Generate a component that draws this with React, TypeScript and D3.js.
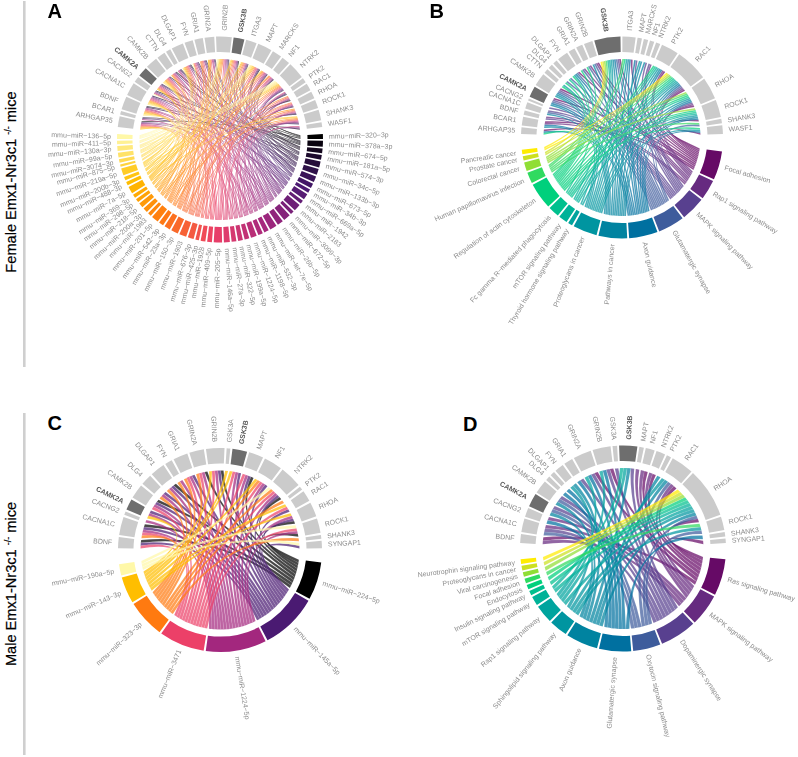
import * as d3 from "d3";
import { useEffect, useRef } from "react";

// Genes of the female panels (A, B) and male panels (C, D).
const femaleGenes = ["ARHGAP35", "BCAR1", "BDNF", "CACNA1C", "CACNG2", "CAMK2A", "CAMK2B", "CTTN", "DLG4", "DLGAP1", "FYN", "GRIA1", "GRIN2A", "GRIN2B", "GSK3B", "ITGA3", "MAPT", "MARCKS", "NF1", "NTRK2", "PTK2", "RAC1", "RHOA", "ROCK1", "SHANK3", "WASF1"];
const maleGenes = ["BDNF", "CACNA1C", "CACNG2", "CAMK2A", "CAMK2B", "DLG4", "DLGAP1", "FYN", "GRIA1", "GRIN2A", "GRIN2B", "GSK3A", "GSK3B", "MAPT", "NF1", "NTRK2", "PTK2", "RAC1", "RHOA", "ROCK1", "SHANK3", "SYNGAP1"];
const boldGenes = ["CAMK2A", "GSK3B"];

// Panel A: miRNAs, clockwise from the right. Each string lists the targets,
// one letter per link, where a = first gene of the panel, b = second, ...
const panelAMirs = ["320-3p", "378a-3p", "674-5p", "181a-5p", "574-3p", "34c-5p", "133b-3p", "673-5p", "34b-3p", "669a-5p", "1942", "2183", "3099-3p", "672-5p", "26b-5p", "let-7e-5p", "532-3p", "1198-5p", "1224-5p", "199a-5p", "322-5p", "27a-3p", "146a-5p", "205-5p", "409-5p", "1928", "425-3p", "676-3p", "1903", "150-3p", "23a-3p", "542-3p", "201-5p", "1983", "200a-3p", "218-5p", "298-5p", "369-3p", "7a-5p", "488-3p", "200b-3p", "219a-5p", "875-5p", "3074-3p", "99a-5p", "130a-3p", "411-5p", "136-5p"];
const panelALinks = ["ahov", "cjqxe", "lszg", "nubi", "pwdkr", "yfmtc", "nyjuf", "qbmx", "ite", "palwh", "sdo", "zkvgrn", "lqv", "afkpuz", "ejoty", "dinsxc", "hmrw", "btcm", "yhrdn", "xise", "oaku", "fpzg", "qvjwl", "naqgsdy", "koct", "hrxf", "mjv", "plwqf", "talydo", "gwjrcx", "hnspk", "vmtc", "ojsgyl", "anq", "dxrf", "phmg", "tna", "qjd", "yocmpf", "rnt", "cqd", "ygaojt", "dn", "qcg", "jqtg", "cndt", "tqe", "ntpk"];

// Panel B: KEGG pathways against the same genes.
const panelBPathways = ["Focal adhesion", "Rap1 signaling pathway", "MAPK signaling pathway", "Glutamatergic synapse", "Axon guidance", "Pathways in cancer", "Proteoglycans in cancer", "Thyroid hormone signaling pathway", "mTOR signaling pathway", "Fc gamma R-mediated phagocytosis", "Regulation of actin cytoskeleton", "Human papillomavirus infection", "Colorectal cancer", "Prostate cancer", "Pancreatic cancer"];
const panelBLinks = ["abfgknopuvwxz", "bclmntuvw", "cdefgoqstvw", "dfgijklmnovy", "abfgkopquvwxz", "bdfgnoprsuvwx", "ghkopruvwxz", "ov", "ouvx", "juvwx", "ahiklmpuvwxz", "opvwy", "ovwx", "ov", "ov"];

// Panel C: male miRNAs.
const panelCMirs = ["224-5p", "145a-5p", "1224-5p", "3471", "323-3p", "143-3p", "190a-5p"];
const panelCLinks = ["abegjknpst", "abdefgikmnoprsv", "bcdefghijkmnopst", "abeijkmnoprt", "bfghijopqu", "dklmors", "ptv"];

// Panel D: male pathways.
const panelDPathways = ["Ras signaling pathway", "MAPK signaling pathway", "Dopaminergic synapse", "Oxytocin signaling pathway", "Glutamatergic synapse", "Axon guidance", "Sphingolipid signaling pathway", "Rap1 signaling pathway", "mTOR signaling pathway", "Insulin signaling pathway", "Endocytosis", "Focal adhesion", "Viral carcinogenesis", "Proteoglycans in cancer", "Neurotrophin signaling pathway"];
const panelDLinks = ["ajkoprsv", "abcnopr", "bdeijklm", "bderst", "cfgijku", "dehmqrs", "hrst", "jkms", "ms", "s", "s", "t", "s", "s", "s"];

// Colour ramps.
const mirColors = ["#000000", "#4a1a72", "#a3277e", "#ec4068", "#ff7a10", "#ffbe00", "#fff8a8"];
const pathwayColors = ["#660a66", "#662a80", "#58408f", "#3e5c9c", "#0070a0", "#0083a0", "#0095a0", "#00a49e", "#00b298", "#00c08e", "#00d07c", "#30da60", "#90de35", "#cce020", "#ffec00"];

const geneGrey = "#cbcbcb";
const geneDark = "#6e6e6e";
const labelGrey = "#8c8c8c";
const rad = Math.PI / 180;
const fontFamily = "'Liberation Sans', Arial, sans-serif";

type Panel = {
  letter: string;
  letterX: number;
  letterY: number;
  cx: number;
  cy: number;
  R: number;
  top: number[]; // genes arc, degrees clockwise from 12 o'clock
  bottom: number[]; // miRNA / pathway arc
  gap: number;
  genes: string[];
  groups: string[];
  links: string[];
  colors: string[];
  drawByGene?: boolean;
};

const miRName = (s: string) => `mmu-miR-${s}`.replace(/-/g, "\u2212");

const panels: Panel[] = [
  { letter: "A", letterX: 47.5, letterY: 17.5, cx: 220, cy: 139.5, R: 103, top: [-83, 83], bottom: [87, 273], gap: 1, genes: femaleGenes, groups: panelAMirs.map(miRName), links: panelALinks, colors: mirColors, drawByGene: true },
  { letter: "B", letterX: 429.5, letterY: 17.5, cx: 622, cy: 137.5, R: 101, top: [-88, 88], bottom: [98, 263], gap: 1.1, genes: femaleGenes, groups: panelBPathways.map((s) => s.replace("R-", "R\u2212")), links: panelBLinks, colors: pathwayColors },
  { letter: "C", letterX: 47.5, letterY: 430, cx: 220, cy: 550, R: 102, top: [-89, 89], bottom: [97, 262], gap: 1.2, genes: maleGenes, groups: panelCMirs.map(miRName), links: panelCLinks, colors: mirColors },
  { letter: "D", letterX: 463, letterY: 431, cx: 623, cy: 548.5, R: 103, top: [-87, 87], bottom: [96, 264], gap: 1.1, genes: maleGenes, groups: panelDPathways, links: panelDLinks, colors: pathwayColors },
];

// Sectors get an arc proportional to their number of links.
function layoutSide(counts: number[], span: number[], gap: number) {
  const total = d3.sum(counts);
  const perLink = (span[1] - span[0] - gap * (counts.length - 1)) / total;
  let at = span[0];
  return counts.map((n) => {
    const sector = { start: at * rad, end: (at + n * perLink) * rad };
    at += n * perLink + gap;
    return sector;
  });
}

// Point on the circle; angles run clockwise from 12 o'clock like d3.arc.
const onCircle = (a: number, r: number) => [r * Math.sin(a), -r * Math.cos(a)];

// Like d3.ribbon, but the control point follows the two ends a little and sits
// above the centre, so the fans of links cross above the middle of the circle.
function ribbonPath(src: any, tgt: any, r: number) {
  const control = (a0: number, a1: number) => {
    const [px, py] = onCircle(a0, r);
    const [qx, qy] = onCircle(a1, r);
    return [0.08 * (px + qx), 0.08 * (py + qy) - 0.25 * r];
  };

  const path = d3.path();
  const [sx, sy] = onCircle(src.startAngle, r);
  path.moveTo(sx, sy);
  path.arc(0, 0, r, src.startAngle - Math.PI / 2, src.endAngle - Math.PI / 2);
  const [c1x, c1y] = control(src.endAngle, tgt.startAngle);
  const [tx, ty] = onCircle(tgt.startAngle, r);
  path.quadraticCurveTo(c1x, c1y, tx, ty);
  path.arc(0, 0, r, tgt.startAngle - Math.PI / 2, tgt.endAngle - Math.PI / 2);
  const [c2x, c2y] = control(tgt.endAngle, src.startAngle);
  path.quadraticCurveTo(c2x, c2y, sx, sy);
  path.closePath();
  return path.toString();
}

function drawPanel(svg: any, p: Panel) {
  const g = svg.append("g").attr("transform", `translate(${p.cx},${p.cy})`);
  const ringOuter = p.R;
  const ringInner = p.R - 15.5;
  const linkRadius = p.R - 22.5;

  const edges: { group: number; gene: number }[] = [];
  p.links.forEach((codes, group) => {
    for (const c of codes) edges.push({ group, gene: c.charCodeAt(0) - 97 });
  });

  const geneCounts = p.genes.map((_, i) => edges.filter((e) => e.gene === i).length);
  const groupCounts = p.groups.map((_, i) => edges.filter((e) => e.group === i).length);
  const geneSectors = layoutSide(geneCounts, p.top, p.gap);
  const groupSectors = layoutSide(groupCounts, p.bottom, p.gap);

  const color = d3
    .scaleLinear<string>()
    .domain(p.colors.map((_, i) => (i / (p.colors.length - 1)) * (p.groups.length - 1)))
    .range(p.colors)
    .interpolate(d3.interpolateRgb);

  // Inside a gene the links run from the last group to the first, clockwise;
  // inside a group they run from the last gene to the first.
  const slot = (list: any[], key: string, other: string, sectors: any[]) => {
    sectors.forEach((sector, i) => {
      const own = list.filter((e) => e[key] === i).sort((a, b) => d3.descending(a[other], b[other]));
      const x = d3.scaleLinear().domain([0, own.length]).range([sector.start, sector.end]);
      own.forEach((e, j) => {
        e[`${key}Arc`] = { startAngle: x(j), endAngle: x(j + 1) };
      });
    });
  };
  slot(edges, "gene", "group", geneSectors);
  slot(edges, "group", "gene", groupSectors);

  const drawn = p.drawByGene ? d3.sort(edges, (e) => e.gene) : edges;
  g.append("g")
    .selectAll("path")
    .data(drawn)
    .join("path")
    .attr("d", (e: any) => ribbonPath(e.groupArc, e.geneArc, linkRadius))
    .attr("fill", (e: any) => color(e.group))
    .attr("fill-opacity", 0.72)
    .attr("stroke", "#fff")
    .attr("stroke-opacity", 0.4)
    .attr("stroke-width", 0.2);

  const arc = d3.arc<any>().innerRadius(ringInner).outerRadius(ringOuter).startAngle((d) => d.start).endAngle((d) => d.end);
  g.append("g")
    .selectAll("path")
    .data(geneSectors)
    .join("path")
    .attr("d", arc)
    .attr("fill", (_: any, i: number) => (boldGenes.includes(p.genes[i]) ? geneDark : geneGrey));
  g.append("g")
    .selectAll("path")
    .data(groupSectors)
    .join("path")
    .attr("d", arc)
    .attr("fill", (_: any, i: number) => color(i));

  const labels = [
    ...geneSectors.map((s, i) => ({ ...s, name: p.genes[i], bold: boldGenes.includes(p.genes[i]) })),
    ...groupSectors.map((s, i) => ({ ...s, name: p.groups[i], bold: false })),
  ];
  const midDeg = (d: any) => ((d.start + d.end) / 2 / rad + 360) % 360;
  const labelLayer = svg.append("g").attr("transform", `translate(${p.cx},${p.cy})`).style("will-change", "transform");
  labelLayer
    .selectAll("text")
    .data(labels)
    .join("text")
    .attr("transform", (d: any) => {
      const deg = midDeg(d);
      const flip = deg > 180 ? " rotate(180)" : "";
      return `rotate(${deg - 90}) translate(${p.R + 6},0)${flip}`;
    })
    .attr("text-anchor", (d: any) => (midDeg(d) > 180 ? "end" : "start"))
    .attr("dy", "0.35em")
    .attr("font-size", 7)
    .attr("font-family", fontFamily)
    .attr("font-weight", (d: any) => (d.bold ? "bold" : "normal"))
    .attr("fill", (d: any) => (d.bold ? "#555" : labelGrey))
    .text((d: any) => d.name);

  svg.append("text")
    .attr("x", p.letterX)
    .attr("y", p.letterY)
    .attr("font-size", 20)
    .attr("font-weight", "bold")
    .attr("font-family", fontFamily)
    .text(p.letter);
}

function drawSideTitle(svg: any, name: string, x: number, y: number) {
  const t = svg.append("text")
    .attr("transform", `translate(${x},${y}) rotate(-90)`)
    .attr("text-anchor", "middle")
    .attr("font-size", 14.6)
    .attr("stroke", "#000")
    .attr("stroke-width", 0.2)
    .attr("font-family", fontFamily);
  t.append("tspan").text(`${name} Emx1-Nr3c1 `);
  t.append("tspan").attr("font-size", 9).attr("dy", -5).text("-/-");
  t.append("tspan").attr("dy", 5).text(" mice");
}

export default function App() {
  const svgRef = useRef<SVGSVGElement>(null);

  useEffect(() => {
    if (!svgRef.current) return;
    const svg = d3.select(svgRef.current);
    svg.selectAll("*").remove();

    svg.append("rect").attr("x", 23).attr("y", 1).attr("width", 2.6).attr("height", 366).attr("fill", "#cfcfcf");
    svg.append("rect").attr("x", 23).attr("y", 413).attr("width", 2.6).attr("height", 342).attr("fill", "#cfcfcf");
    drawSideTitle(svg, "Female", 16, 182);
    drawSideTitle(svg, "Male", 16, 584);

    panels.forEach((p) => drawPanel(svg, p));
  }, []);

  return (
    <svg
      ref={svgRef}
      width={798}
      height={757}
      style={{ position: "absolute", left: 0, top: 0, background: "#fff" }}
    />
  );
}
